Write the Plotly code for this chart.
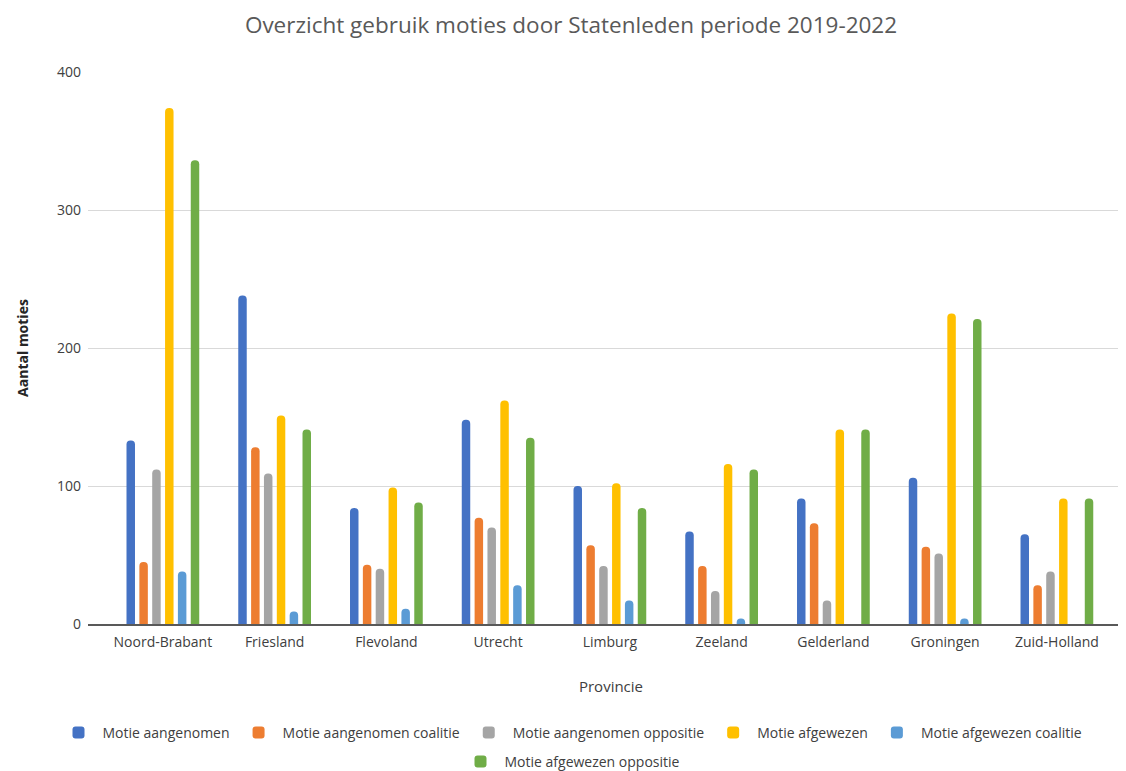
import plotly.graph_objects as go

provincies = ["Noord-Brabant", "Friesland", "Flevoland", "Utrecht", "Limburg",
              "Zeeland", "Gelderland", "Groningen", "Zuid-Holland"]
aangenomen = [133, 238, 84, 148, 100, 67, 91, 106, 65]
aangenomen_coalitie = [45, 128, 43, 77, 57, 42, 73, 56, 28]
aangenomen_oppositie = [112, 109, 40, 70, 42, 24, 17, 51, 38]
afgewezen = [374, 151, 99, 162, 102, 116, 141, 225, 91]
afgewezen_coalitie = [38, 9, 11, 28, 17, 4, 0, 4, 0]
afgewezen_oppositie = [336, 141, 88, 135, 84, 112, 141, 221, 91]

series = [
    ("Motie aangenomen", aangenomen, "#4472C4", "legend"),
    ("Motie aangenomen coalitie", aangenomen_coalitie, "#ED7D31", "legend"),
    ("Motie aangenomen oppositie", aangenomen_oppositie, "#A5A5A5", "legend"),
    ("Motie afgewezen", afgewezen, "#FFC000", "legend"),
    ("Motie afgewezen coalitie", afgewezen_coalitie, "#5B9BD5", "legend"),
    ("Motie afgewezen oppositie", afgewezen_oppositie, "#70AD47", "legend2"),
]

fig = go.Figure()
for name, vals, col, lg in series:
    fig.add_trace(go.Bar(x=provincies, y=vals, name=name, marker_color=col,
                         marker_line_width=0, legend=lg))

legend_font = dict(size=14, color="#404040")

fig.update_layout(
    width=1126, height=771,
    paper_bgcolor="white", plot_bgcolor="white",
    font=dict(family="Open Sans, sans-serif", color="#595959", size=14),
    title=dict(text="Overzicht gebruik moties door Statenleden periode 2019-2022",
               x=0.5, xanchor="center", y=0.978, yanchor="middle",
               font=dict(size=22.5, color="#595959")),
    margin=dict(l=80, r=0, t=64, b=155),
    barmode="group", bargap=0.31, bargroupgap=0.34,
    barcornerradius=4,
    xaxis=dict(title=dict(text="Provincie", font=dict(size=15, color="#404040"), standoff=32),
               range=[-0.67, 8.69],
               showgrid=False, showline=True, linecolor="#595959", linewidth=1.5,
               tickfont=dict(size=14, color="#404040"), ticks="", ticklabelstandoff=4),
    yaxis=dict(title=dict(text="<b>Aantal moties</b>", font=dict(size=14, color="#262626"), standoff=25),
               range=[0, 400], dtick=100, showgrid=True, gridcolor="#D9D9D9",
               gridwidth=1, zeroline=False, showline=False,
               tickfont=dict(size=14, color="#404040"), ticks="", ticklabelstandoff=6),
    legend=dict(orientation="h", xref="container", yref="container",
                x=0.5, xanchor="center", y=1 - 725 / 771, yanchor="middle",
                font=legend_font, traceorder="normal", itemwidth=38),
    legend2=dict(orientation="h", xref="container", yref="container",
                 x=0.5, xanchor="center", y=1 - 754 / 771, yanchor="middle",
                 font=legend_font, itemwidth=38),
)

fig.write_html("out.html")
